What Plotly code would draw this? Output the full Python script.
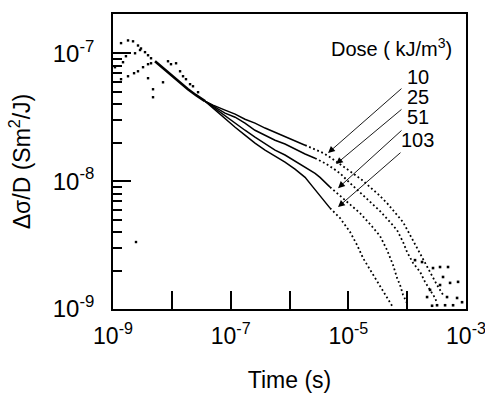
import math
import plotly.graph_objects as go

# ---------------- data ----------------
# shared part right after the peak (all doses coincide)
t_common = [5.18e-9, 7.08e-9, 9.68e-9, 1.38e-8, 1.88e-8, 2.58e-8, 3.66e-8]
s_common = [8.66e-8, 7.64e-8, 6.73e-8, 5.83e-8, 5.23e-8, 4.70e-8, 4.22e-8]

# dose 10 kJ/m3
t_10 = [5.01e-8, 8.02e-8, 1.19e-7, 1.75e-7, 2.59e-7, 3.84e-7, 5.68e-7, 8.39e-7, 1.24e-6, 1.84e-6,
        2.72e-6, 3.72e-6, 4.89e-6, 6.43e-6, 8.79e-6, 1.20e-5, 1.71e-5, 2.34e-5, 3.20e-5, 4.55e-5,
        6.22e-5, 8.51e-5, 1.12e-4, 1.47e-4, 1.86e-4, 2.45e-4, 3.22e-4, 4.07e-4]
s_10 = [3.93e-8, 3.59e-8, 3.34e-8, 3.05e-8, 2.84e-8, 2.60e-8, 2.41e-8, 2.25e-8, 2.09e-8, 1.91e-8,
        1.78e-8, 1.66e-8, 1.54e-8, 1.41e-8, 1.29e-8, 1.15e-8, 1.02e-8, 8.98e-9, 7.91e-9, 6.73e-9,
        5.62e-9, 4.78e-9, 3.79e-9, 3.00e-9, 2.41e-9, 1.95e-9, 1.54e-9, 1.29e-9]

# dose 25 kJ/m3
t_25 = [5.01e-8, 8.02e-8, 1.19e-7, 1.75e-7, 2.59e-7, 3.84e-7, 5.68e-7, 8.39e-7, 1.24e-6, 1.84e-6,
        2.72e-6, 4.02e-6, 5.50e-6, 7.23e-6, 1.07e-5, 1.58e-5, 2.34e-5, 3.46e-5, 5.12e-5, 6.73e-5,
        8.51e-5, 9.95e-5, 1.26e-4, 1.66e-4, 2.01e-4, 2.45e-4, 2.98e-4, 3.22e-4]
s_25 = [3.85e-8, 3.40e-8, 3.16e-8, 2.84e-8, 2.50e-8, 2.29e-8, 2.09e-8, 1.95e-8, 1.78e-8, 1.63e-8,
        1.51e-8, 1.38e-8, 1.26e-8, 1.15e-8, 9.65e-9, 8.21e-9, 6.98e-9, 5.83e-9, 4.78e-9, 4.14e-9,
        3.34e-9, 2.79e-9, 2.29e-9, 1.95e-9, 1.63e-9, 1.41e-9, 1.22e-9, 1.11e-9]

# dose 51 kJ/m3
t_51 = [5.01e-8, 8.02e-8, 1.19e-7, 1.75e-7, 2.59e-7, 3.84e-7, 5.68e-7, 8.39e-7, 1.24e-6, 1.84e-6,
        2.72e-6, 3.30e-6, 4.89e-6, 7.23e-6, 1.07e-5, 1.58e-5, 2.34e-5, 3.46e-5, 4.55e-5, 5.75e-5,
        6.73e-5, 7.57e-5, 8.51e-5, 9.95e-5]
s_51 = [3.79e-8, 3.22e-8, 2.84e-8, 2.50e-8, 2.21e-8, 1.95e-8, 1.75e-8, 1.60e-8, 1.43e-8, 1.29e-8,
        1.15e-8, 1.07e-8, 8.98e-9, 7.64e-9, 6.49e-9, 5.62e-9, 4.61e-9, 3.72e-9, 2.89e-9, 2.21e-9,
        1.75e-9, 1.54e-9, 1.29e-9, 1.11e-9]

# dose 103 kJ/m3
t_103 = [5.01e-8, 8.02e-8, 1.19e-7, 1.75e-7, 2.59e-7, 3.84e-7, 5.68e-7, 8.39e-7, 1.24e-6, 1.84e-6,
         2.51e-6, 3.30e-6, 4.89e-6, 7.23e-6, 1.07e-5, 1.41e-5, 1.78e-5, 2.34e-5, 3.08e-5, 3.89e-5,
         4.73e-5, 5.53e-5]
s_103 = [3.72e-8, 3.05e-8, 2.64e-8, 2.29e-8, 1.98e-8, 1.75e-8, 1.57e-8, 1.41e-8, 1.24e-8, 1.07e-8,
         8.98e-9, 7.64e-9, 6.15e-9, 5.14e-9, 4.00e-9, 3.16e-9, 2.50e-9, 2.02e-9, 1.63e-9, 1.36e-9,
         1.18e-9, 1.06e-9]

# scattered early-time points (before / around the peak)
t_early = [1.37e-9, 1.80e-9, 2.19e-9, 2.66e-9, 2.99e-9, 3.50e-9, 3.94e-9, 4.43e-9,
           1.08e-9, 1.37e-9, 1.80e-9, 2.28e-9, 2.66e-9, 3.24e-9, 3.94e-9, 4.43e-9,
           1.48e-9, 1.66e-9, 2.37e-9, 2.88e-9,
           3.94e-9, 4.79e-9, 4.79e-9, 7.08e-9, 8.61e-9, 9.68e-9, 1.18e-8, 1.38e-8,
           1.55e-8, 1.74e-8, 2.04e-8, 2.29e-8, 2.79e-8, 2.46e-9]
s_early = [1.20e-7, 1.26e-7, 1.24e-7, 1.15e-7, 1.09e-7, 1.02e-7, 9.65e-8, 9.14e-8,
           7.78e-8, 6.27e-8, 6.61e-8, 6.98e-8, 7.23e-8, 7.78e-8, 8.21e-8, 8.35e-8,
           8.51e-8, 9.48e-8, 1.00e-7, 1.06e-7,
           6.38e-8, 5.23e-8, 4.53e-8, 5.93e-8, 8.66e-8, 8.21e-8, 8.35e-8, 7.23e-8,
           6.61e-8, 6.27e-8, 5.73e-8, 5.52e-8, 4.96e-8, 3.34e-9]

# scattered long-time points (noisy tails of the low-dose curves)
t_tail = [3.62e-4, 4.95e-4, 4.07e-4, 7.33e-4, 3.62e-4, 2.45e-4, 2.18e-4, 4.76e-4, 7.05e-4,
          3.22e-4, 6.03e-4, 8.57e-4, 1.36e-4, 1.79e-4, 2.75e-4, 5.36e-4, 4.41e-4, 2.65e-4]
s_tail = [2.13e-9, 2.13e-9, 1.78e-9, 1.63e-9, 1.54e-9, 1.41e-9, 1.24e-9, 1.24e-9, 1.22e-9,
          1.07e-9, 1.07e-9, 1.13e-9, 2.41e-9, 2.33e-9, 2.09e-9, 1.60e-9, 1.07e-9, 1.06e-9]

doses = ["10", "25", "51", "103"]
series_t = [t_10, t_25, t_51, t_103]
series_s = [s_10, s_25, s_51, s_103]
dense_until = [2.0e-6, 3.0e-6, 5.0e-6, 7.0e-6]   # where the trace turns into separate dots

x_ticks = [1e-9, 1e-8, 1e-7, 1e-6, 1e-5, 1e-4, 1e-3]
x_ticktext = ["10<sup>-9</sup>", "", "10<sup>-7</sup>", "", "10<sup>-5</sup>", "", "10<sup>-3</sup>"]
y_ticks = [1e-9, 1e-8, 1e-7]
y_ticktext = ["10<sup>-9</sup>", "10<sup>-8</sup>", "10<sup>-7</sup>"]
y_minor = [m * 10.0 ** e for e in (-9, -8, -7) for m in range(2, 10)]

FONT = "Liberation Sans, Arial, Helvetica, sans-serif"
INK = "black"

fig = go.Figure()
# thick merged band just after the peak
fig.add_trace(go.Scatter(x=t_common, y=s_common, mode="lines",
                         line=dict(color=INK, width=2.6), showlegend=False))
for lab, tt, ss, tcut in zip(doses, series_t, series_s, dense_until):
    t_all = t_common[-1:] + tt
    s_all = s_common[-1:] + ss
    dense = [(a, b) for a, b in zip(t_all, s_all) if a <= tcut]
    loose = [(a, b) for a, b in zip(t_all, s_all) if a >= dense[-1][0]]
    fig.add_trace(go.Scatter(x=[p[0] for p in dense], y=[p[1] for p in dense], mode="lines",
                             line=dict(color=INK, width=1.5), showlegend=False, name=lab))
    fig.add_trace(go.Scatter(x=[p[0] for p in loose], y=[p[1] for p in loose], mode="lines",
                             line=dict(color=INK, width=1.8, dash="1.8px,2.6px"),
                             showlegend=False, name=lab))

fig.add_trace(go.Scatter(x=t_early, y=s_early, mode="markers",
                         marker=dict(color=INK, size=2.4, symbol="square"), showlegend=False))
fig.add_trace(go.Scatter(x=t_tail, y=s_tail, mode="markers",
                         marker=dict(color=INK, size=2.6, symbol="square"), showlegend=False))

# annotations
L = math.log10
ann = []
label_y = [7.184, 7.340, 7.496, 7.676]
heads = [(4.52e-6, 1.66e-8), (6.18e-6, 1.36e-8), (6.68e-6, 8.81e-9), (6.68e-6, 6.27e-9)]
tails = [(8.49e-5, 5.42e-8), (8.49e-5, 3.72e-8), (8.49e-5, 2.55e-8), (8.17e-5, 1.71e-8)]
for lab, ly in zip(doses, label_y):
    ann.append(dict(x=-3.82, y=-ly, xref="x", yref="y", text=lab, showarrow=False,
                    xanchor="center", yanchor="middle", font=dict(family=FONT, size=20, color=INK)))
for (hx, hy), (tx, ty) in zip(heads, tails):
    ann.append(dict(x=L(hx), y=L(hy), ax=L(tx), ay=L(ty), xref="x", yref="y", axref="x", ayref="y",
                    text="", showarrow=True, arrowhead=2, arrowsize=1.5, arrowwidth=0.9,
                    arrowcolor=INK, standoff=0))
ann.append(dict(x=-4.26, y=-6.953, xref="x", yref="y", text="Dose ( kJ/m<sup>3</sup>)",
                showarrow=False, xanchor="center", yanchor="middle",
                font=dict(family=FONT, size=20, color=INK)))

fig.update_layout(
    width=485, height=393,
    margin=dict(l=113, r=19, t=14, b=84, autoexpand=False),
    paper_bgcolor="white", plot_bgcolor="white",
    font=dict(family=FONT, size=22, color=INK),
    annotations=ann,
    xaxis=dict(type="log", range=[-9, -3], showgrid=False, zeroline=False, automargin=False,
               showline=True, linecolor=INK, linewidth=1.8, mirror=True,
               ticks="inside", ticklen=18, tickwidth=1.8, tickcolor=INK,
               tickmode="array", tickvals=x_ticks, ticktext=x_ticktext,
               tickfont=dict(family=FONT, size=23, color=INK), ticklabelstandoff=5,
               ticklabeloverflow="allow",
               title=dict(text="Time (s)", font=dict(family=FONT, size=23, color=INK), standoff=24)),
    yaxis=dict(type="log", range=[-9, -6.693], showgrid=False, zeroline=False, automargin=False,
               showline=True, linecolor=INK, linewidth=1.8, mirror=True,
               ticks="inside", ticklen=18, tickwidth=1.8, tickcolor=INK,
               tickmode="array", tickvals=y_ticks, ticktext=y_ticktext,
               tickfont=dict(family=FONT, size=24, color=INK), ticklabelstandoff=12,
               minor=dict(tickmode="array", tickvals=y_minor, ticks="inside", ticklen=9,
                          tickwidth=1.8, tickcolor=INK, showgrid=False),
               title=dict(text="Δσ/D (Sm<sup>2</sup>/J)", font=dict(family=FONT, size=23, color=INK),
                          standoff=16)),
)

fig.write_html("out.html")
